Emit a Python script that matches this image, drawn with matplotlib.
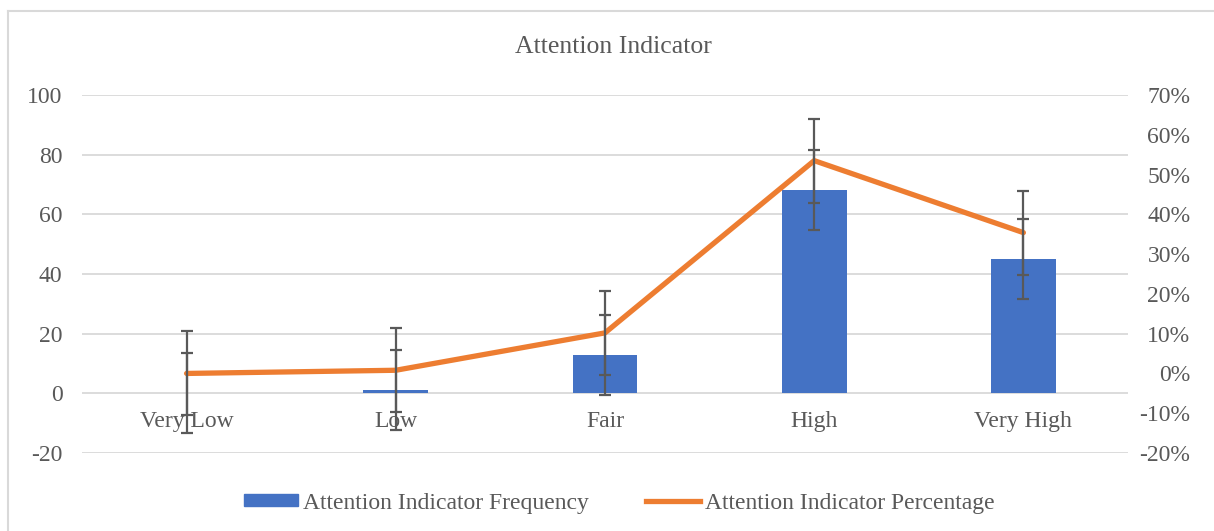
import numpy as np
import matplotlib.pyplot as plt
from matplotlib.patches import Patch
from matplotlib.lines import Line2D

categories = ['Very Low', 'Low', 'Fair', 'High', 'Very High']
frequency = [0, 1, 13, 68, 45]
percentage = [0.0, 0.8, 10.2, 53.5, 35.4]
freq_err = [13.4, 13.4, 13.4, 13.4, 13.4]
pct_err = [10.55, 10.55, 10.55, 10.55, 10.55]

plt.rcParams['font.family'] = ['Liberation Serif', 'DejaVu Serif']
plt.rcParams['axes.unicode_minus'] = False
txt = '#595959'
blue = '#4472C4'
orange = '#ED7D31'
grid = '#D9D9D9'
fs = 17

fig = plt.figure(figsize=(12.14, 5.31), dpi=100)
ax = fig.add_axes([82 / 1214, 1 - 453 / 531, (1128 - 82) / 1214, (453 - 95) / 531])
ax2 = ax.twinx()

x = np.arange(len(categories))

# bars + their error bars on left axis
ax.bar(x, frequency, width=0.31, color=blue, zorder=2)
ax.errorbar(x, frequency, yerr=freq_err, fmt='none', ecolor=txt, elinewidth=1.6,
            capsize=4.5, capthick=1.6, zorder=3)
ax.set_ylim(-20, 100)
ax.set_yticks(np.arange(-20, 101, 20))
ax.set_xlim(-0.5, len(categories) - 0.5)
ax.grid(axis='y', color=grid, linewidth=1.3, zorder=0)
ax.set_axisbelow(True)
ax.set_xticks([])
for s in ax.spines.values():
    s.set_visible(False)
ax.tick_params(axis='y', length=0, pad=14, labelsize=fs, labelcolor=txt)

for i, c in enumerate(categories):
    ax.text(i, -9.6, c, ha='center', va='center', fontsize=fs, color=txt, zorder=1)

# percentage line on right axis
pct = np.array(percentage) / 100
ax2.plot(x, pct, color=orange, linewidth=3.8, solid_capstyle='round', zorder=2)
ax2.errorbar(x, pct, yerr=np.array(pct_err) / 100, fmt='none', ecolor=txt,
             elinewidth=1.6, capsize=4.5, capthick=1.6, zorder=3)
ax2.set_ylim(-0.2, 0.7)
ticks2 = np.arange(-0.2, 0.71, 0.1)
ax2.set_yticks(ticks2)
ax2.set_yticklabels([f'{round(v * 100)}%' for v in ticks2])
for s in ax2.spines.values():
    s.set_visible(False)
ax2.tick_params(axis='y', length=0, pad=45, labelsize=fs, labelcolor=txt)
for lab in ax2.get_yticklabels():
    lab.set_horizontalalignment('right')

fig.text(0.505, 1 - 47 / 531, 'Attention Indicator', ha='center', va='center',
         fontsize=18.5, color=txt)

handles = [Patch(facecolor=blue, edgecolor=blue),
           Line2D([0], [0], color=orange, linewidth=3.8)]
fig.legend(handles, ['Attention Indicator Frequency', 'Attention Indicator Percentage'],
           loc='center', bbox_to_anchor=(0.510, 1 - 503 / 531), ncol=2, frameon=False,
           fontsize=fs, labelcolor=txt, handlelength=2.3, handleheight=0.45,
           handletextpad=0.2, columnspacing=2.4)

# chart border (left and top edges visible)
fig.add_artist(Line2D([8 / 1214, 8 / 1214], [0, 1 - 11 / 531], transform=fig.transFigure,
                      color=grid, linewidth=1.5))
fig.add_artist(Line2D([8 / 1214, 1], [1 - 11 / 531, 1 - 11 / 531], transform=fig.transFigure,
                      color=grid, linewidth=1.5))

fig.savefig('out.png', dpi=100)
